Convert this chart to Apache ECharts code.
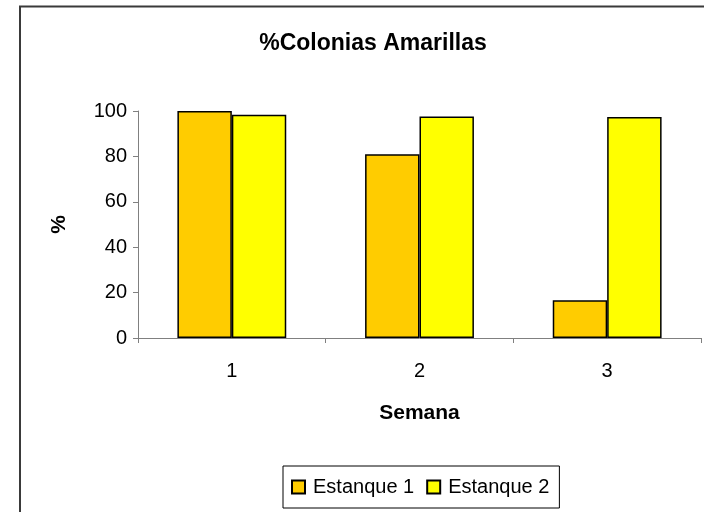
<!DOCTYPE html>
<html>
<head>
<meta charset="utf-8">
<script src="https://cdn.jsdelivr.net/npm/echarts@6/dist/echarts.min.js"></script>
<style>
html,body{margin:0;padding:0;background:#fff;}
#c{width:704px;height:512px;}
</style>
</head>
<body>
<div id="c"></div>
<script>
var categories = ['1', '2', '3'];
var estanque1 = [100, 81, 16.6];
var estanque2 = [98.4, 97.6, 97.4];
var seriesNames = ['Estanque 1', 'Estanque 2'];
var yTicks = [0, 20, 40, 60, 80, 100];

var FONT = '"Liberation Sans", Arial, sans-serif';
var chart = echarts.init(document.getElementById('c'), null, {renderer: 'canvas'});
chart.setOption({
  animation: false,
  backgroundColor: '#fff',
  textStyle: {fontFamily: FONT, color: '#000'},
  graphic: [{
    type: 'rect', silent: true, z: -1,
    shape: {x: 20, y: 6.5, width: 800, height: 600},
    style: {fill: 'none', stroke: '#3a3a3a', lineWidth: 2}
  }],
  title: {
    text: '%Colonias Amarillas',
    left: 368, top: 27, textAlign: 'center',
    textStyle: {fontFamily: FONT, fontSize: 23, fontWeight: 'bold', color: '#000'}
  },
  legend: {
    data: seriesNames,
    left: 283, top: 466,
    padding: [11, 10, 11, 8],
    itemWidth: 13, itemHeight: 13, itemGap: 12,
    icon: 'rect',
    borderColor: '#000', borderWidth: 1,
    textStyle: {fontFamily: FONT, fontSize: 20, color: '#000', padding: [0, 0, 0, 3]}
  },
  grid: {left: 138, right: 3, top: 111, bottom: 174, containLabel: false},
  xAxis: {
    type: 'category',
    data: categories,
    name: 'Semana',
    nameLocation: 'middle',
    nameGap: 65,
    nameTextStyle: {fontFamily: FONT, fontSize: 21, fontWeight: 'bold', color: '#000'},
    axisLine: {lineStyle: {color: '#808080', width: 1}},
    axisTick: {show: true, length: 5, lineStyle: {color: '#808080'}},
    axisLabel: {fontFamily: FONT, fontSize: 20, color: '#000', margin: 23}
  },
  yAxis: {
    type: 'value',
    min: 0, max: 100, interval: 20,
    name: '%',
    nameLocation: 'middle',
    nameGap: 68,
    nameTextStyle: {fontFamily: FONT, fontSize: 21, fontWeight: 'bold', color: '#000'},
    axisLine: {show: true, lineStyle: {color: '#808080', width: 1}},
    axisTick: {show: true, length: 5, lineStyle: {color: '#808080'}},
    splitLine: {show: false},
    axisLabel: {fontFamily: FONT, fontSize: 20, color: '#000', margin: 11,
      formatter: function (v) { return yTicks.indexOf(v) >= 0 ? String(v) : ''; }}
  },
  series: [{
    name: seriesNames[0], type: 'bar', data: estanque1,
    barGap: '0%', barCategoryGap: '42%',
    itemStyle: {color: '#FFCC00', borderColor: '#000', borderWidth: 1.5}
  }, {
    name: seriesNames[1], type: 'bar', data: estanque2,
    barGap: '0%', barCategoryGap: '42%',
    itemStyle: {color: '#FFFF00', borderColor: '#000', borderWidth: 1.5}
  }]
});
</script>
</body>
</html>
